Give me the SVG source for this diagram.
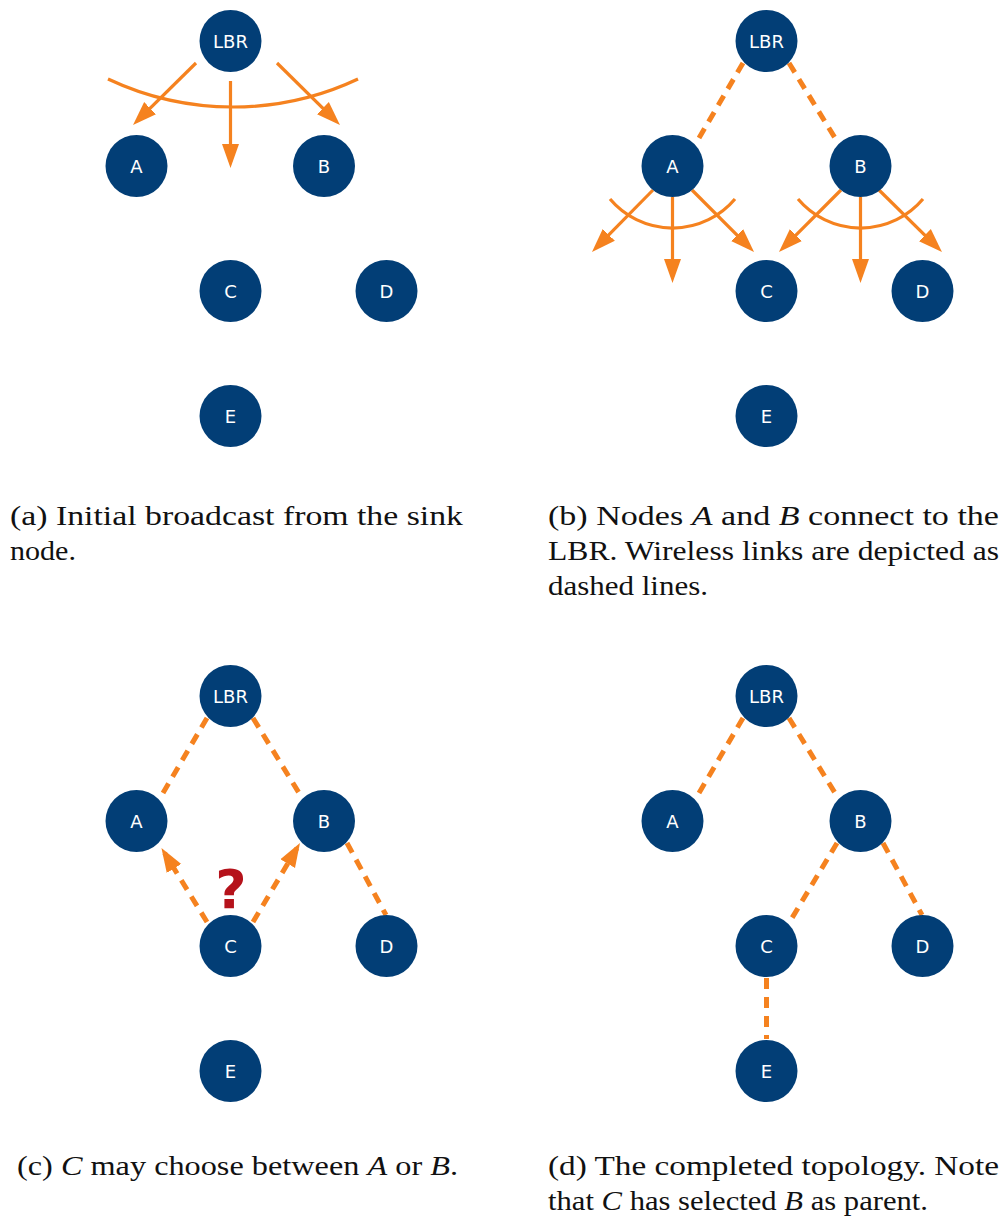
<svg xmlns="http://www.w3.org/2000/svg" width="1003" height="1221" viewBox="0 0 1003 1221">
<style>
.nd circle{fill:#023e76}
.nd text{fill:#ffffff;font-family:"DejaVu Sans",sans-serif;font-size:18px;text-anchor:middle}
.sol{stroke:#f5821f;stroke-width:3.2;fill:none}
.dsh{stroke:#f5821f;stroke-width:5;fill:none;stroke-dasharray:11 8}
.cap{font-family:"Liberation Serif",serif;font-size:28px;fill:#111}
.it{font-style:italic}
</style>
<defs>
<marker id="ah" markerUnits="userSpaceOnUse" markerWidth="24" markerHeight="18" refX="18" refY="9" orient="auto">
<path d="M0,0.5 L24,9 L0,17.5 z" fill="#f5821f"/>
</marker>
</defs>

<g id="connectors">
<!-- panel a -->
<path class="sol" d="M108,79 A293,293 0 0 0 358,79"/>
<line class="sol" x1="196" y1="63" x2="137.3" y2="120.8" marker-end="url(#ah)"/>
<line class="sol" x1="230.5" y1="81" x2="230.5" y2="162" marker-end="url(#ah)"/>
<line class="sol" x1="277" y1="63" x2="335.7" y2="120.8" marker-end="url(#ah)"/>
<!-- panel b -->
<line class="dsh" x1="743" y1="63" x2="699" y2="138"/>
<line class="dsh" x1="789" y1="63" x2="835" y2="138"/>
<path class="sol" d="M610,199 A81.8,81.8 0 0 0 735,199"/>
<line class="sol" x1="653" y1="190" x2="596.2" y2="247.7" marker-end="url(#ah)"/>
<line class="sol" x1="672.5" y1="197" x2="672.5" y2="277" marker-end="url(#ah)"/>
<line class="sol" x1="692" y1="190" x2="749.8" y2="247.8" marker-end="url(#ah)"/>
<path class="sol" d="M798,199 A81.8,81.8 0 0 0 923,199"/>
<line class="sol" x1="841" y1="190" x2="783.2" y2="247.8" marker-end="url(#ah)"/>
<line class="sol" x1="860.5" y1="197" x2="860.5" y2="277" marker-end="url(#ah)"/>
<line class="sol" x1="879" y1="190" x2="937.7" y2="247.8" marker-end="url(#ah)"/>
<!-- panel c -->
<line class="dsh" x1="207" y1="718" x2="163" y2="793"/>
<line class="dsh" x1="253" y1="718" x2="299" y2="793"/>
<line class="dsh" x1="347" y1="843" x2="386" y2="915"/>
<line class="dsh" x1="207" y1="922" x2="164.6" y2="853.1" marker-end="url(#ah)"/>
<line class="dsh" x1="253" y1="922" x2="296.9" y2="848.2" marker-end="url(#ah)"/>
<!-- panel d -->
<line class="dsh" x1="743" y1="718" x2="699" y2="793"/>
<line class="dsh" x1="789" y1="718" x2="835" y2="793"/>
<line class="dsh" x1="837" y1="843" x2="792" y2="918"/>
<line class="dsh" x1="883" y1="843" x2="922" y2="915"/>
<line class="dsh" x1="766.5" y1="978" x2="766.5" y2="1039"/>
</g>

<!-- panel a nodes -->
<g id="a-LBR" class="nd"><circle cx="230.5" cy="41" r="31"/><text x="230.5" y="47.5">LBR</text></g>
<g id="a-A" class="nd"><circle cx="136.5" cy="166" r="31"/><text x="136.5" y="172.5">A</text></g>
<g id="a-B" class="nd"><circle cx="324" cy="166" r="31"/><text x="324" y="172.5">B</text></g>
<g id="a-C" class="nd"><circle cx="230.5" cy="291" r="31"/><text x="230.5" y="297.5">C</text></g>
<g id="a-D" class="nd"><circle cx="386.5" cy="291" r="31"/><text x="386.5" y="297.5">D</text></g>
<g id="a-E" class="nd"><circle cx="230.5" cy="416" r="31"/><text x="230.5" y="422.5">E</text></g>

<!-- panel b nodes -->
<g id="b-LBR" class="nd"><circle cx="766.5" cy="41" r="31"/><text x="766.5" y="47.5">LBR</text></g>
<g id="b-A" class="nd"><circle cx="672.5" cy="166" r="31"/><text x="672.5" y="172.5">A</text></g>
<g id="b-B" class="nd"><circle cx="860.5" cy="166" r="31"/><text x="860.5" y="172.5">B</text></g>
<g id="b-C" class="nd"><circle cx="766.5" cy="291" r="31"/><text x="766.5" y="297.5">C</text></g>
<g id="b-D" class="nd"><circle cx="922.5" cy="291" r="31"/><text x="922.5" y="297.5">D</text></g>
<g id="b-E" class="nd"><circle cx="766.5" cy="416" r="31"/><text x="766.5" y="422.5">E</text></g>

<!-- panel c nodes -->
<g id="c-LBR" class="nd"><circle cx="230.5" cy="696" r="31"/><text x="230.5" y="702.5">LBR</text></g>
<g id="c-A" class="nd"><circle cx="136.5" cy="821" r="31"/><text x="136.5" y="827.5">A</text></g>
<g id="c-B" class="nd"><circle cx="324" cy="821" r="31"/><text x="324" y="827.5">B</text></g>
<g id="c-C" class="nd"><circle cx="230.5" cy="946" r="31"/><text x="230.5" y="952.5">C</text></g>
<g id="c-D" class="nd"><circle cx="386.5" cy="946" r="31"/><text x="386.5" y="952.5">D</text></g>
<g id="c-E" class="nd"><circle cx="230.5" cy="1071" r="31"/><text x="230.5" y="1077.5">E</text></g>
<text id="c-question" x="231" y="908" font-family="DejaVu Sans, sans-serif" font-weight="bold" font-size="54" fill="#b5121b" text-anchor="middle">?</text>

<!-- panel d nodes -->
<g id="d-LBR" class="nd"><circle cx="766.5" cy="696" r="31"/><text x="766.5" y="702.5">LBR</text></g>
<g id="d-A" class="nd"><circle cx="672.5" cy="821" r="31"/><text x="672.5" y="827.5">A</text></g>
<g id="d-B" class="nd"><circle cx="860.5" cy="821" r="31"/><text x="860.5" y="827.5">B</text></g>
<g id="d-C" class="nd"><circle cx="766.5" cy="946" r="31"/><text x="766.5" y="952.5">C</text></g>
<g id="d-D" class="nd"><circle cx="922.5" cy="946" r="31"/><text x="922.5" y="952.5">D</text></g>
<g id="d-E" class="nd"><circle cx="766.5" cy="1071" r="31"/><text x="766.5" y="1077.5">E</text></g>

<!-- captions -->
<g id="captions">
<text class="cap" x="10" y="525" textLength="453" lengthAdjust="spacingAndGlyphs">(a) Initial broadcast from the sink</text>
<text class="cap" x="10" y="560" textLength="66" lengthAdjust="spacingAndGlyphs">node.</text>
<text class="cap" x="548" y="525" textLength="451" lengthAdjust="spacingAndGlyphs">(b) Nodes <tspan class="it">A</tspan> and <tspan class="it">B</tspan> connect to the</text>
<text class="cap" x="548" y="560" textLength="451" lengthAdjust="spacingAndGlyphs">LBR. Wireless links are depicted as</text>
<text class="cap" x="548" y="595" textLength="160" lengthAdjust="spacingAndGlyphs">dashed lines.</text>
<text class="cap" x="17" y="1175" textLength="441" lengthAdjust="spacingAndGlyphs">(c) <tspan class="it">C</tspan> may choose between <tspan class="it">A</tspan> or <tspan class="it">B</tspan>.</text>
<text class="cap" x="548" y="1175" textLength="451" lengthAdjust="spacingAndGlyphs">(d) The completed topology.  Note</text>
<text class="cap" x="548" y="1210" textLength="380" lengthAdjust="spacingAndGlyphs">that <tspan class="it">C</tspan> has selected <tspan class="it">B</tspan> as parent.</text>
</g>
</svg>
